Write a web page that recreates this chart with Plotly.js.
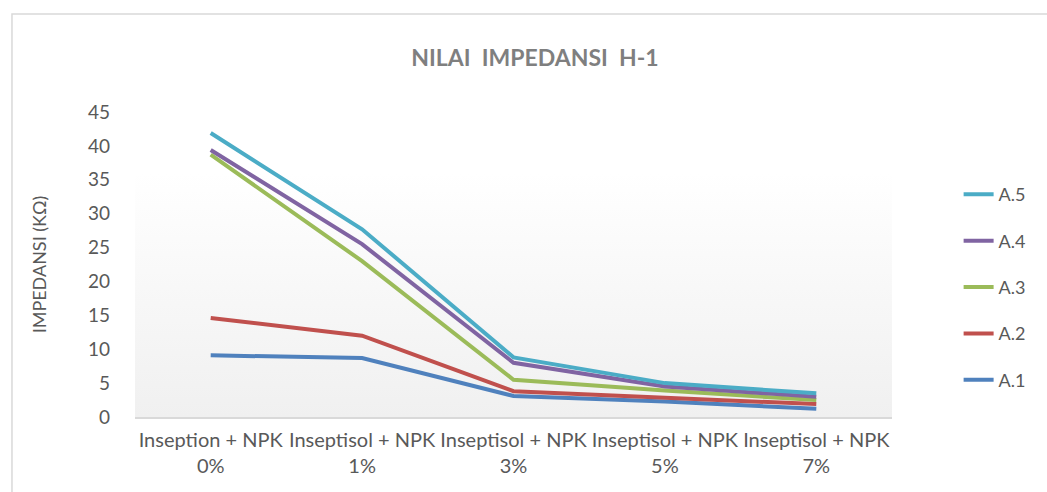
<!DOCTYPE html>
<html>
<head>
<meta charset="utf-8">
<script src="https://cdn.plot.ly/plotly-3.0.1.min.js"></script>
<style>html,body{margin:0;padding:0;background:#fff;}#chart{width:1047px;height:492px;}</style>
</head>
<body>
<div id="chart"></div>
<script>
const categories = [
  "Inseption + NPK<br>0%",
  "Inseptisol + NPK<br>1%",
  "Inseptisol + NPK<br>3%",
  "Inseptisol + NPK<br>5%",
  "Inseptisol + NPK<br>7%"
];
const seriesNames = ["A.1", "A.2", "A.3", "A.4", "A.5"];
const a1 = [9.1, 8.7, 3.1, 2.3, 1.2];
const a2 = [14.6, 12.0, 3.8, 2.9, 1.9];
const a3 = [38.7, 23.0, 5.5, 3.9, 2.5];
const a4 = [39.4, 25.5, 8.0, 4.5, 3.0];
const a5 = [41.9, 27.7, 8.8, 5.0, 3.5];
const yTicks = [0, 5, 10, 15, 20, 25, 30, 35, 40, 45];
const colors = ["#4f81bd", "#c0504d", "#9bbb59", "#8064a2", "#4bacc6"];

const values = [a1, a2, a3, a4, a5];
const traces = values.map((v, i) => ({
  type: "scatter",
  mode: "lines",
  name: seriesNames[i],
  x: categories,
  y: v,
  legendgroup: seriesNames[i],
  legendrank: 100 - i,
  line: {color: colors[i], width: 4},
  hoverinfo: "x+y+name"
}));

const grad = 'data:image/svg+xml;utf8,' + encodeURIComponent(
  '<svg xmlns="http://www.w3.org/2000/svg" width="100" height="100" preserveAspectRatio="none">' +
  '<defs><linearGradient id="g" x1="0" y1="0" x2="0" y2="1">' +
  '<stop offset="0" stop-color="#ffffff"/><stop offset="0.2" stop-color="#ffffff"/>' +
  '<stop offset="1" stop-color="#f0f0f0"/></linearGradient></defs>' +
  '<rect width="100" height="100" fill="url(#g)"/></svg>');

const font = "Lato, 'Open Sans', sans-serif";

const layout = {
  width: 1047, height: 492,
  margin: {l: 135, r: 155, t: 112, b: 75},
  paper_bgcolor: "#ffffff",
  plot_bgcolor: "rgba(0,0,0,0)",
  font: {family: font, color: "#595959"},
  title: {
    text: "<b>NILAI  IMPEDANSI  H-1</b>",
    font: {family: font, size: 23, color: "#7f7f7f"},
    xref: "container", yref: "container",
    x: 0.511, xanchor: "center", y: 0.882, yanchor: "middle"
  },
  xaxis: {
    type: "category",
    range: [-0.5, 4.5],
    showgrid: false, zeroline: false,
    showline: true, linecolor: "#d9d9d9", linewidth: 2,
    ticks: "",
    ticklabelstandoff: 4,
    tickfont: {family: font, size: 20, color: "#595959"},
    fixedrange: true
  },
  yaxis: {
    range: [0, 45],
    tickvals: yTicks,
    showgrid: false, zeroline: false, showline: false,
    ticks: "",
    ticklabelstandoff: 24,
    tickfont: {family: font, size: 19, color: "#595959"},
    title: {text: "IMPEDANSI (KΩ)", font: {family: font, size: 18, color: "#595959"}, standoff: 36},
    fixedrange: true
  },
  legend: {
    x: 1.088, xanchor: "left",
    y: 0.79, yanchor: "top",
    traceorder: "grouped",
    tracegroupgap: 20,
    font: {family: font, size: 18, color: "#595959"},
    bgcolor: "rgba(0,0,0,0)"
  },
  images: [{
    source: grad, xref: "paper", yref: "paper",
    x: 0, y: 1, sizex: 1, sizey: 1,
    xanchor: "left", yanchor: "top",
    sizing: "stretch", layer: "below"
  }],
  shapes: [{
    type: "rect", xref: "paper", yref: "paper",
    x0: -0.1625, x1: 1.4, y0: -0.5, y1: 1.321,
    line: {color: "#d9d9d9", width: 1.5},
    fillcolor: "rgba(0,0,0,0)", layer: "below"
  }],
  showlegend: true
};

Plotly.newPlot("chart", traces, layout, {displayModeBar: false, staticPlot: false});
</script>
</body>
</html>
